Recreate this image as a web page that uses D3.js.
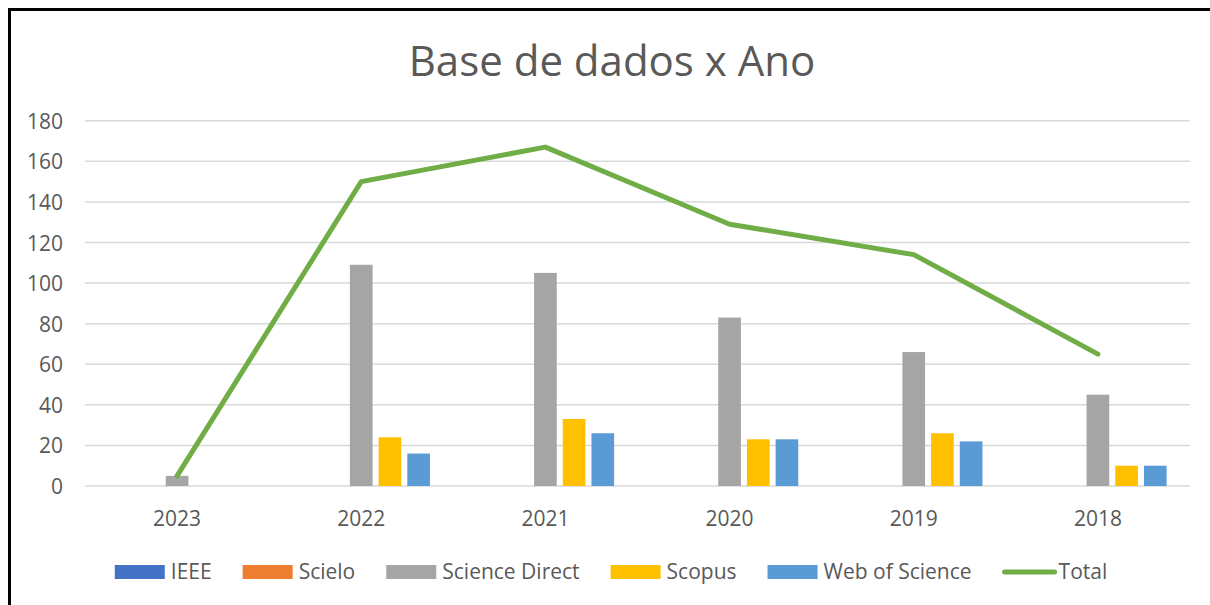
<!DOCTYPE html>
<html>
<head>
<meta charset="utf-8">
<script src="https://cdn.jsdelivr.net/npm/d3@7"></script>
<style>
  body { margin: 0; background: #fff; }
  text { font-family: "Open Sans", sans-serif; fill: #595959; }
</style>
</head>
<body>
<div id="graf"></div>
<script>
// Dados
const anos = ["2023", "2022", "2021", "2020", "2019", "2018"];
const bases = ["IEEE", "Scielo", "Science Direct", "Scopus", "Web of Science"];
const ieee = [0, 0, 0, 0, 0, 0];
const scielo = [0, 0, 0, 0, 0, 0];
const scienceDirect = [5, 109, 105, 83, 66, 45];
const scopus = [0, 24, 33, 23, 26, 10];
const webOfScience = [0, 16, 26, 23, 22, 10];
const total = [5, 150, 167, 129, 114, 65];
const yTicks = [0, 20, 40, 60, 80, 100, 120, 140, 160, 180];

const cores = {
  "IEEE": "#4472c4",
  "Scielo": "#ed7d31",
  "Science Direct": "#a5a5a5",
  "Scopus": "#ffc000",
  "Web of Science": "#5b9bd5",
  "Total": "#70ad47",
};

const series = [ieee, scielo, scienceDirect, scopus, webOfScience];

// Dimensiones
const anchoTotal = 1210;
const altoTotal = 605;
const margins = { top: 120.7, right: 20, bottom: 119, left: 85 };
const ancho = 1190 - margins.left;
const alto = 486 - margins.top;

const svg = d3
  .select("#graf")
  .append("svg")
  .attr("width", anchoTotal)
  .attr("height", altoTotal);

// borda do gráfico (cortada à direita e embaixo)
svg
  .append("rect")
  .attr("x", 9.5)
  .attr("y", 9.5)
  .attr("width", 1400)
  .attr("height", 800)
  .attr("fill", "none")
  .attr("stroke", "#000")
  .attr("stroke-width", 3);

svg
  .append("text")
  .attr("x", 612)
  .attr("y", 76)
  .attr("text-anchor", "middle")
  .style("font-size", "42px")
  .text("Base de dados x Ano");

const g = svg
  .append("g")
  .attr("transform", `translate(${margins.left}, ${margins.top})`);

// Escalas
const x0 = d3
  .scaleBand()
  .domain(anos)
  .range([0, ancho])
  .paddingInner(0.254)
  .paddingOuter(0.127);

const x1 = d3
  .scaleBand()
  .domain(bases)
  .range([0, x0.bandwidth()])
  .paddingInner(0.21);

const y = d3.scaleLinear().domain([0, 180]).range([alto, 0]);

// Grade
g.selectAll("line.grid")
  .data(yTicks)
  .enter()
  .append("line")
  .attr("class", "grid")
  .attr("x1", 0)
  .attr("x2", ancho)
  .attr("y1", (d) => y(d))
  .attr("y2", (d) => y(d))
  .attr("stroke", "#d9d9d9")
  .attr("stroke-width", 1.5);

// Eixo Y
const yAxis = g
  .append("g")
  .attr("transform", "translate(-22,0)")
  .call(d3.axisLeft(y).tickValues(yTicks).tickSize(0).tickPadding(0));
yAxis.select(".domain").remove();
yAxis.selectAll("text").style("font-size", "21px").attr("dy", "0.36em");

// Eixo X
const xAxis = g
  .append("g")
  .attr("transform", `translate(0, ${alto})`)
  .call(d3.axisBottom(x0).tickSize(0).tickPadding(0));
xAxis.select(".domain").remove();
xAxis.selectAll("text").style("font-size", "21px").attr("y", 40).attr("dy", 0);

// Barras
const grupos = g
  .selectAll("g.ano")
  .data(anos)
  .enter()
  .append("g")
  .attr("class", "ano")
  .attr("transform", (d) => `translate(${x0(d)}, 0)`);

grupos
  .selectAll("rect")
  .data((d, i) => bases.map((b, j) => ({ base: b, valor: series[j][i] })))
  .enter()
  .append("rect")
  .attr("x", (d) => x1(d.base))
  .attr("width", x1.bandwidth())
  .attr("y", (d) => y(d.valor))
  .attr("height", (d) => alto - y(d.valor))
  .attr("fill", (d) => cores[d.base]);

// Linha do total
const linha = d3
  .line()
  .x((d, i) => x0(anos[i]) + x0.bandwidth() / 2)
  .y((d) => y(d));

g.append("path")
  .datum(total)
  .attr("d", linha)
  .attr("fill", "none")
  .attr("stroke", cores["Total"])
  .attr("stroke-width", 5)
  .attr("stroke-linejoin", "round")
  .attr("stroke-linecap", "round");

// Legenda
const itens = bases.concat(["Total"]);
const legenda = svg.append("g");
const item = legenda
  .selectAll("g")
  .data(itens)
  .enter()
  .append("g");

item
  .append("text")
  .attr("x", 56)
  .attr("y", 579)
  .style("font-size", "21px")
  .text((d) => d);

item.each(function (d) {
  const el = d3.select(this);
  if (d === "Total") {
    el.append("line")
      .attr("x1", 2)
      .attr("x2", 52)
      .attr("y1", 572)
      .attr("y2", 572)
      .attr("stroke", cores[d])
      .attr("stroke-width", 5)
      .attr("stroke-linecap", "round");
  } else {
    el.append("rect")
      .attr("x", 0)
      .attr("y", 565)
      .attr("width", 50)
      .attr("height", 14)
      .attr("fill", cores[d]);
  }
});

// posiciona os itens em sequência e centraliza
const espaco = 31;
let pos = 0;
const posicoes = [];
item.each(function () {
  const w = d3.select(this).select("text").node().getComputedTextLength();
  posicoes.push(pos);
  pos += 56 + w + espaco;
});
const larguraLeg = pos - espaco;
const inicio = 611 - larguraLeg / 2;
item.attr("transform", (d, i) => `translate(${inicio + posicoes[i]}, 0)`);
</script>
</body>
</html>
